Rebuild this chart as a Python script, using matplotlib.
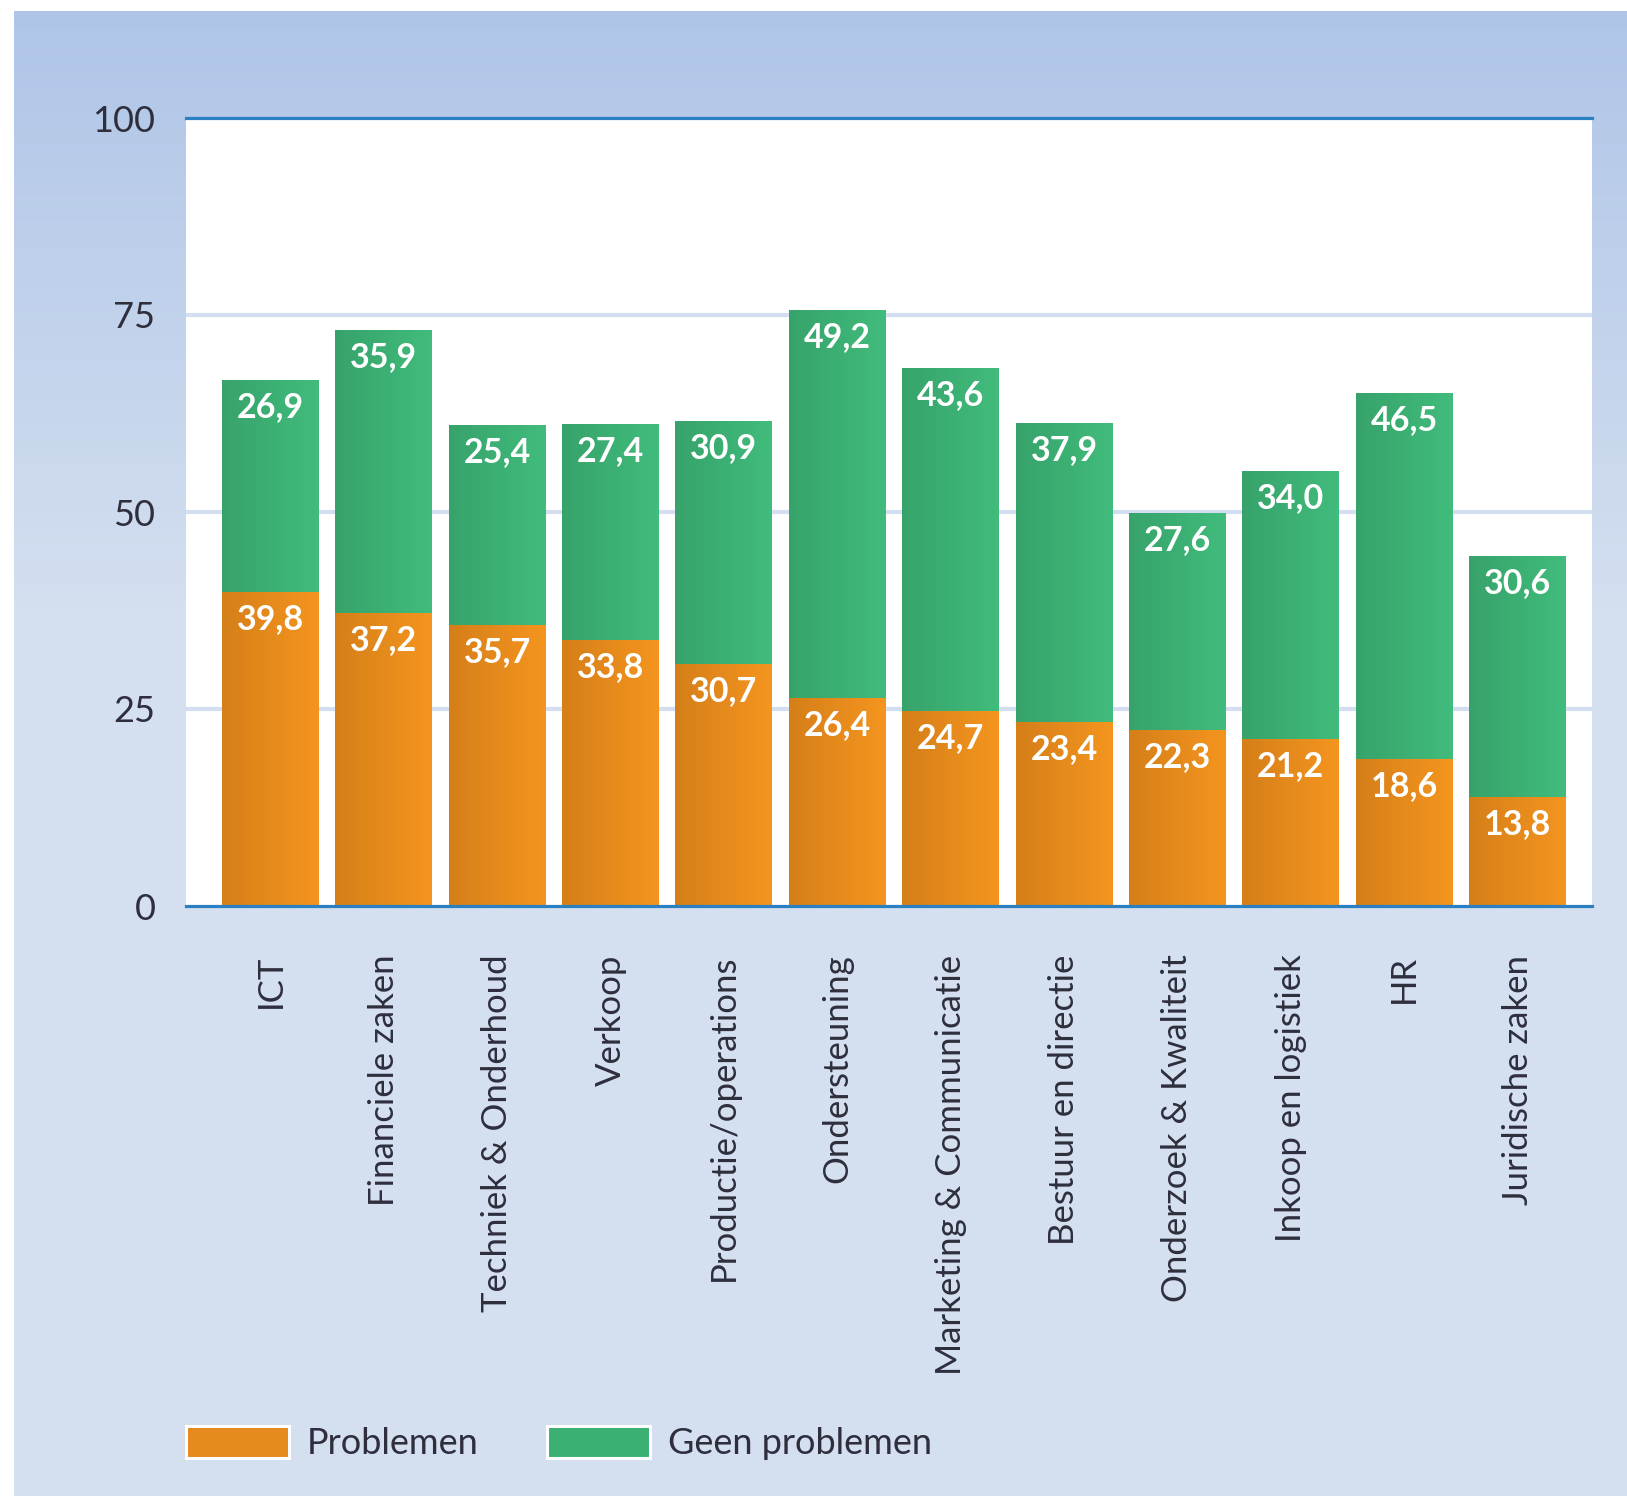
import numpy as np
import matplotlib
matplotlib.use("Agg")
import matplotlib.pyplot as plt
import matplotlib.patches as mpatches
from matplotlib.colors import LinearSegmentedColormap

# ---------- data ----------
categories = ["ICT", "Financiele zaken", "Techniek & Onderhoud", "Verkoop",
              "Productie/operations", "Ondersteuning", "Marketing & Communicatie",
              "Bestuur en directie", "Onderzoek & Kwaliteit", "Inkoop en logistiek",
              "HR", "Juridische zaken"]
problemen = [39.8, 37.2, 35.7, 33.8, 30.7, 26.4, 24.7, 23.4, 22.3, 21.2, 18.6, 13.8]
geen_problemen = [26.9, 35.9, 25.4, 27.4, 30.9, 49.2, 43.6, 37.9, 27.6, 34.0, 46.5, 30.6]
y_ticks = [0, 25, 50, 75, 100]
legend_labels = ["Problemen", "Geen problemen"]

# ---------- style ----------
plt.rcParams["font.family"] = ["Lato", "DejaVu Sans"]
text_col = "#2e2e3c"
orange_cmap = LinearSegmentedColormap.from_list("o", ["#d57f19", "#f5951f"])
green_cmap = LinearSegmentedColormap.from_list("g", ["#37a36b", "#41bc7c"])
green_cmap_leg = LinearSegmentedColormap.from_list("g2", ["#41bc7c", "#35a46a"])

W, H = 1627, 1496
fig = plt.figure(figsize=(W / 100, H / 100), dpi=100)
fig.patch.set_facecolor("white")

# background gradient panel (white strip left and top)
bg = fig.add_axes([14 / W, 0, 1 - 14 / W, 1 - 11 / H], zorder=-5)
grad = np.concatenate([np.linspace(0, 1, 600), np.ones(885)])[:, None]
bg_cmap = LinearSegmentedColormap.from_list("bg", ["#afc5e7", "#d4dff0"])
bg.imshow(grad, aspect="auto", cmap=bg_cmap, extent=[0, 1, 0, 1], origin="upper")
bg.set_axis_off()

ax = fig.add_axes([186 / W, 1 - 906 / H, (1592 - 186) / W, (906 - 118) / H])
ax.set_facecolor("white")

x = np.arange(len(categories))
bw = 0.855
bars_p = ax.bar(x, problemen, bw, facecolor="none", edgecolor="none", zorder=3)
bars_g = ax.bar(x, geen_problemen, bw, bottom=problemen, facecolor="none",
                edgecolor="none", zorder=3)

hgrad = np.linspace(0, 1, 256)[None, :]
for bars, cmap in [(bars_p, orange_cmap), (bars_g, green_cmap)]:
    for b in bars:
        x0, y0 = b.get_x(), b.get_y()
        im = ax.imshow(hgrad, cmap=cmap, aspect="auto", zorder=3,
                       extent=[x0, x0 + b.get_width(), y0, y0 + b.get_height()])
        im.set_clip_path(b)

# value labels at top of each segment
for bars, vals in [(bars_p, problemen), (bars_g, geen_problemen)]:
    for b, v in zip(bars, vals):
        top = b.get_y() + b.get_height()
        ax.annotate(f"{v:.1f}".replace(".", ","), (b.get_x() + b.get_width() / 2, top),
                    xytext=(0, -19.5), textcoords="offset points",
                    ha="center", va="center", color="white",
                    fontsize=24.5, fontweight="bold", zorder=5)

ax.set_xlim(-0.745, len(categories) - 1 + 0.657)
ax.set_ylim(0, 100)
ax.set_yticks(y_ticks)
ax.set_yticklabels([str(t) for t in y_ticks], fontsize=26, color=text_col)
ax.set_xticks(x)
ax.set_xticklabels(categories, rotation=90, va="top", ha="center",
                   fontsize=25, color=text_col)
ax.tick_params(axis="both", length=0)
ax.tick_params(axis="y", pad=22)
ax.tick_params(axis="x", pad=35)

for t in y_ticks[1:-1]:
    ax.axhline(t, color="#d3dff0", lw=3, zorder=1)

for s in ["left", "right"]:
    ax.spines[s].set_visible(False)
for s in ["top", "bottom"]:
    ax.spines[s].set_color("#2a80c0")
    ax.spines[s].set_linewidth(2.3)
    ax.spines[s].set_zorder(6)

# legend
handles = [mpatches.Patch(facecolor="#e58a1d", edgecolor="white", linewidth=2.2),
           mpatches.Patch(facecolor="#3bb072", edgecolor="white", linewidth=2.2)]
leg = fig.legend(handles, legend_labels, loc="center left",
                 bbox_to_anchor=(186 / W, 1 - 1443 / H), ncol=2, frameon=False,
                 fontsize=26, handlelength=2.85, handleheight=1.0, handletextpad=0.5,
                 columnspacing=1.9, borderpad=0, borderaxespad=0, labelcolor=text_col)

# gradient fill inside the legend patches
fig.canvas.draw()
renderer = fig.canvas.get_renderer()
for p, cmap in zip(leg.get_patches(), [orange_cmap, green_cmap_leg]):
    bb = p.get_window_extent(renderer)
    inset = 3
    lax = fig.add_axes([(bb.x0 + inset) / W, (bb.y0 + inset) / H,
                        (bb.width - 2 * inset) / W, (bb.height - 2 * inset) / H])
    lax.imshow(hgrad, cmap=cmap, aspect="auto")
    lax.set_axis_off()

fig.savefig("out.png", dpi=100)
